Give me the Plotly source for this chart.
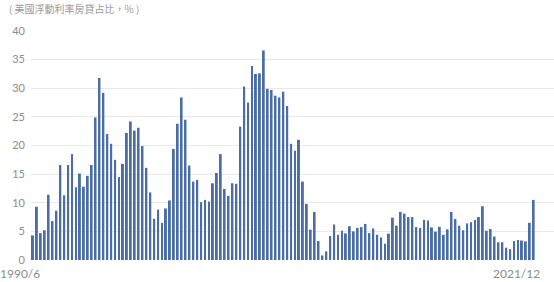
import plotly.graph_objects as go

# Quarterly share of adjustable-rate mortgages (%), 1990/6 .. 2021/12
values = [
    4.3, 9.3, 4.7, 5.2, 11.4, 6.8, 8.6, 16.6, 11.3, 16.6,
    18.5, 12.7, 15.1, 12.8, 14.7, 16.6, 24.9, 31.8, 29.2, 22.0,
    20.3, 17.5, 14.5, 16.8, 22.2, 24.2, 22.6, 23.1, 19.9, 16.1,
    11.8, 7.2, 8.8, 6.5, 9.0, 10.4, 19.4, 23.8, 28.4, 24.5,
    16.5, 13.7, 14.0, 10.1, 10.5, 10.2, 13.4, 15.2, 18.5, 12.4,
    11.2, 13.4, 13.3, 23.3, 30.3, 27.5, 33.9, 32.5, 32.6, 36.6,
    29.9, 29.7, 28.7, 28.4, 29.4, 26.9, 20.3, 19.1, 21.0, 13.7,
    9.8, 5.3, 8.4, 3.3, 0.8, 1.5, 4.2, 6.2, 4.4, 5.1,
    4.65, 5.9, 5.0, 5.6, 5.75, 6.3, 4.7, 5.5, 4.4, 3.95,
    2.85, 4.6, 7.4, 6.0, 8.4, 8.1, 7.5, 7.5, 5.75, 5.6,
    7.0, 6.9, 5.7, 4.95, 5.8, 4.4, 5.35, 8.4, 7.15, 6.0,
    5.2, 6.4, 6.6, 7.0, 7.5, 9.4, 5.1, 5.4, 4.1, 3.1,
    3.1, 2.15, 1.9, 3.3, 3.5, 3.4, 3.25, 6.5, 10.5,
]
x_index = list(range(len(values)))
first_label = "1990/6"
last_label = "2021/12"
title_text = "( 美國浮動利率房貸占比，% )"
y_ticks = [0, 5, 10, 15, 20, 25, 30, 35, 40]

BAR = "#4a6da7"
GRAY = "#8c8c8c"
FONT = "Lato, 'Noto Sans CJK TC', sans-serif"

fig = go.Figure(
    go.Bar(x=x_index, y=values, width=0.5, marker=dict(color=BAR, line=dict(width=0)))
)

fig.update_layout(
    width=554, height=282,
    margin=dict(l=31, r=0, t=31, b=22),
    paper_bgcolor="white", plot_bgcolor="white",
    showlegend=False,
    font=dict(family=FONT, color=GRAY),
    xaxis=dict(
        range=[-0.5, 133.2], showgrid=False, zeroline=False,
        showticklabels=False, ticks="", showline=False,
    ),
    yaxis=dict(
        range=[0, 40], tickvals=y_ticks, showgrid=True, gridcolor="#e9e9e9",
        gridwidth=1, zeroline=False, showline=False, ticks="",
        tickfont=dict(size=11, color=GRAY, family=FONT),
        ticklabelstandoff=5,
    ),
    annotations=[
        dict(text=title_text, xref="paper", yref="paper", x=-31 / 523, y=1,
             xanchor="left", yanchor="bottom", yshift=13, xshift=7, showarrow=False,
             font=dict(size=10, color="#9a9a9a", family="'Noto Sans CJK TC', sans-serif")),
        dict(text=first_label, xref="x", yref="paper", x=x_index[0], y=0,
             xanchor="right", yanchor="top", xshift=9, yshift=-4, showarrow=False,
             font=dict(size=12, color=GRAY, family=FONT)),
        dict(text=last_label, xref="x", yref="paper", x=x_index[-1], y=0,
             xanchor="right", yanchor="top", xshift=8, yshift=-4, showarrow=False,
             font=dict(size=12, color=GRAY, family=FONT)),
    ],
)

fig.write_html("out.html")
